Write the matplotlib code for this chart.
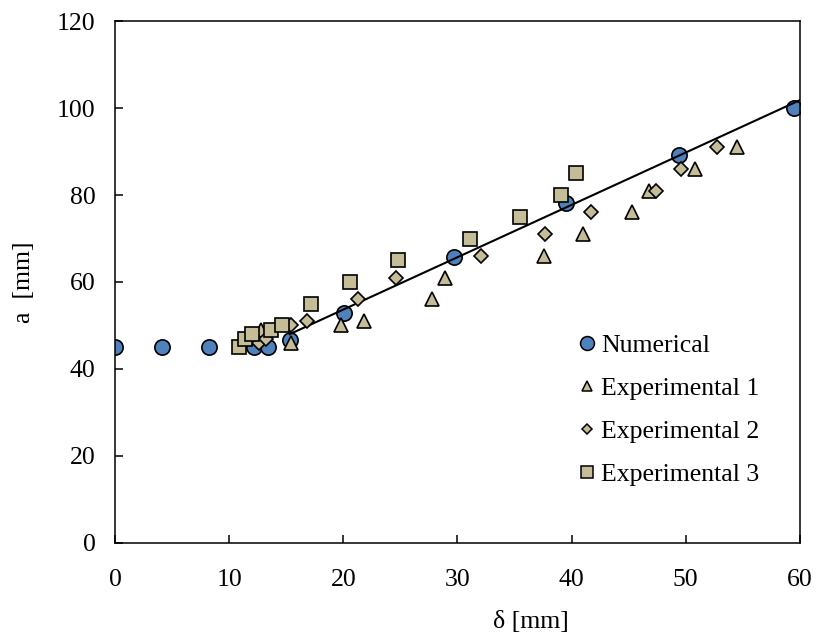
import matplotlib.pyplot as plt
from matplotlib.lines import Line2D

plt.rcParams['font.family'] = ['Liberation Serif', 'DejaVu Serif']

# Numerical (blue circles)
num_x = [0, 4.1, 8.2, 12.2, 13.4, 15.3, 20.1, 29.7, 39.5, 49.4, 59.5]
num_y = [45, 45, 45, 45, 45, 46.7, 52.8, 65.8, 78.2, 89.3, 100]

# linear trend through the numerical points
fit_x = [15.3, 60]
fit_y = [48.0, 101.8]

# Experimental 1 (triangles)
exp1_x = [12.8, 15.4, 19.8, 21.8, 27.8, 28.9, 37.6, 41.0, 45.3, 46.8, 50.8, 54.5]
exp1_y = [49, 46, 50, 51, 56, 61, 66, 71, 76, 81, 86, 91]

# Experimental 2 (diamonds)
exp2_x = [12.6, 13.2, 15.4, 16.8, 21.3, 24.6, 32.1, 37.7, 41.7, 47.4, 49.6, 52.7]
exp2_y = [46, 47, 50, 51, 56, 61, 66, 71, 76, 81, 86, 91]

# Experimental 3 (squares)
exp3_x = [10.9, 11.4, 12.0, 13.7, 14.6, 17.2, 20.6, 24.8, 31.1, 35.5, 39.1, 40.4]
exp3_y = [45, 47, 48, 49, 50, 55, 60, 65, 70, 75, 80, 85]

blue = '#4F81BD'
tan = '#C4BD97'
fs = 18.5

fig = plt.figure(figsize=(8.17, 6.37), dpi=100)
ax = fig.add_axes([0.1408, 0.1476, 0.8382, 0.8194])

ax.plot(num_x, num_y, 'o', ms=11, mfc=blue, mec='black', mew=1.2, zorder=2)
ax.plot(fit_x, fit_y, '-', color='black', lw=1.5, zorder=3)
ax.plot(exp1_x, exp1_y, '^', ms=10, mfc=tan, mec='black', mew=1.2, zorder=4)
ax.plot(exp2_x, exp2_y, 'D', ms=7, mfc=tan, mec='black', mew=1.2, zorder=5)
ax.plot(exp3_x, exp3_y, 's', ms=10, mfc=tan, mec='black', mew=1.2, zorder=6)

ax.set_xlim(0, 60)
ax.set_ylim(0, 120)
ax.set_xticks(range(0, 61, 10))
ax.set_yticks(range(0, 121, 20))
ax.tick_params(direction='in', length=6, width=1.1, labelsize=fs,
               top=False, right=False)
ax.tick_params(axis='x', pad=19)
ax.tick_params(axis='y', pad=14)
for s in ax.spines.values():
    s.set_linewidth(1.1)

ax.set_xlabel('δ [mm]', fontsize=fs, x=0.607, labelpad=14)
ax.set_ylabel('a  [mm]', fontsize=fs, labelpad=16)

handles = [
    Line2D([], [], ls='None', marker='o', ms=10, mfc=blue, mec='black', mew=1.1, label='Numerical'),
    Line2D([], [], ls='None', marker='^', ms=7.5, mfc=tan, mec='black', mew=1.1, label='Experimental 1'),
    Line2D([], [], ls='None', marker='D', ms=5.5, mfc=tan, mec='black', mew=1.1, label='Experimental 2'),
    Line2D([], [], ls='None', marker='s', ms=8, mfc=tan, mec='black', mew=1.1, label='Experimental 3'),
]
fig.legend(handles=handles, loc='upper left', bbox_to_anchor=(0.709, 0.475),
           frameon=False, fontsize=fs, handlelength=0.6, handletextpad=0.25,
           labelspacing=0.77, borderpad=0, borderaxespad=0)

fig.savefig('out.png', dpi=100)
